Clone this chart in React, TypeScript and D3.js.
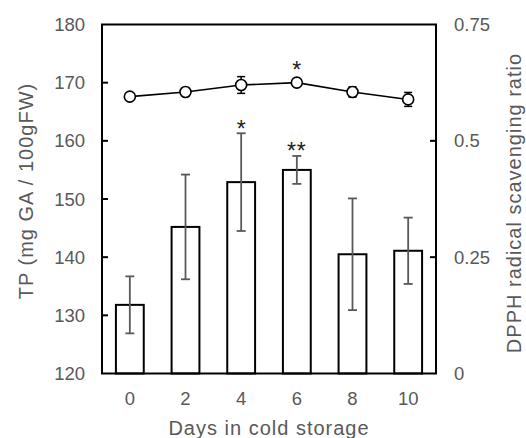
import React, { useMemo } from "react";
import * as d3 from "d3";

const days = ["0", "2", "4", "6", "8", "10"];
const tpMeans = [131.8, 145.2, 152.9, 155.0, 140.5, 141.1];
const tpErrors = [4.9, 9.0, 8.4, 2.4, 9.6, 5.7];
const dpphMeans = [0.595, 0.605, 0.62, 0.625, 0.605, 0.589];
const dpphErrors = [0.003, 0.008, 0.018, 0.003, 0.011, 0.015];
const leftTicks = [120, 130, 140, 150, 160, 170, 180];
const rightTicks = [0, 0.25, 0.5, 0.75];
const rightTickLabels = ["0", "0.25", "0.5", "0.75"];
// significance marks above bars and above the line
const barStars = [
  { day: "4", text: "*" },
  { day: "6", text: "**" },
];
const lineStars = [{ day: "6", text: "*" }];

const GREY = "#595959";
const FONT = "Liberation Sans, Arial, sans-serif";

function App() {
  const width = 526;
  const height = 438;
  const MARGIN = { top: 24.5, right: 90, bottom: 64.5, left: 102 };
  const boundsWidth = width - MARGIN.left - MARGIN.right;
  const boundsHeight = height - MARGIN.top - MARGIN.bottom;

  const xScale = useMemo(
    () =>
      d3
        .scaleBand()
        .domain(days)
        .range([0, boundsWidth])
        .paddingInner(0.5)
        .paddingOuter(0.25),
    [boundsWidth]
  );
  const yScale = useMemo(
    () => d3.scaleLinear().domain([120, 180]).range([boundsHeight, 0]),
    [boundsHeight]
  );
  const y2Scale = useMemo(
    () => d3.scaleLinear().domain([0, 0.75]).range([boundsHeight, 0]),
    [boundsHeight]
  );

  const cx = (d: string) => (xScale(d) ?? 0) + xScale.bandwidth() / 2;

  const bars = days.map((d, i) => (
    <rect
      key={"bar" + i}
      x={xScale(d)}
      y={yScale(tpMeans[i])}
      width={xScale.bandwidth()}
      height={boundsHeight - yScale(tpMeans[i])}
      fill="white"
      stroke="black"
      strokeWidth={2}
    />
  ));

  const barErrors = days.map((d, i) => {
    const x = cx(d);
    const hi = yScale(tpMeans[i] + tpErrors[i]);
    const lo = yScale(tpMeans[i] - tpErrors[i]);
    return (
      <g key={"be" + i} stroke={GREY} strokeWidth={1.8}>
        <line x1={x} x2={x} y1={hi} y2={lo} />
        <line x1={x - 4.5} x2={x + 4.5} y1={hi} y2={hi} />
        <line x1={x - 4.5} x2={x + 4.5} y1={lo} y2={lo} />
      </g>
    );
  });

  const linePath = d3
    .line<number>()
    .x((_, i) => cx(days[i]))
    .y((v) => y2Scale(v))(dpphMeans);

  const lineErrors = days.map((d, i) => {
    const x = cx(d);
    const hi = y2Scale(dpphMeans[i] + dpphErrors[i]);
    const lo = y2Scale(dpphMeans[i] - dpphErrors[i]);
    return (
      <g key={"le" + i} stroke="black" strokeWidth={1.5}>
        <line x1={x} x2={x} y1={hi} y2={lo} />
        <line x1={x - 4} x2={x + 4} y1={hi} y2={hi} />
        <line x1={x - 4} x2={x + 4} y1={lo} y2={lo} />
      </g>
    );
  });

  const points = days.map((d, i) => (
    <circle
      key={"pt" + i}
      cx={cx(d)}
      cy={y2Scale(dpphMeans[i])}
      r={5.5}
      fill="white"
      stroke="black"
      strokeWidth={1.6}
    />
  ));

  const starText = (key: string, x: number, centerY: number, text: string) => (
    <text
      key={key}
      x={x}
      y={centerY + 12.5}
      textAnchor="middle"
      fontSize={23}
      fontFamily={FONT}
      fill="#222"
      letterSpacing={text.length > 1 ? 1 : 0}
    >
      {text}
    </text>
  );

  const stars = [
    ...barStars.map((s, i) => {
      const idx = days.indexOf(s.day);
      const top = yScale(tpMeans[idx] + tpErrors[idx]);
      return starText("bs" + i, cx(s.day), top - 9, s.text);
    }),
    ...lineStars.map((s, i) => {
      const idx = days.indexOf(s.day);
      const top = y2Scale(dpphMeans[idx] + dpphErrors[idx]);
      return starText("ls" + i, cx(s.day), top - 16, s.text);
    }),
  ];

  const yLabels = leftTicks.map((t, i) => (
    <g key={"yl" + i}>
      {t > 120 && t < 180 ? (
        <line x1={0} x2={6} y1={yScale(t)} y2={yScale(t)} stroke="black" strokeWidth={2} />
      ) : null}
      <text
        x={-17}
        y={yScale(t)}
        dy="0.36em"
        textAnchor="end"
        fontSize={18.5}
        fontFamily={FONT}
        fill={GREY}
      >
        {t}
      </text>
    </g>
  ));

  const y2Labels = rightTicks.map((t, i) => (
    <g key={"y2l" + i}>
      {t > 0 && t < 0.75 ? (
        <line
          x1={boundsWidth - 6}
          x2={boundsWidth}
          y1={y2Scale(t)}
          y2={y2Scale(t)}
          stroke="black"
          strokeWidth={2}
        />
      ) : null}
      <text
        x={boundsWidth + 18}
        y={y2Scale(t)}
        dy="0.36em"
        textAnchor="start"
        fontSize={18.5}
        fontFamily={FONT}
        fill={GREY}
      >
        {rightTickLabels[i]}
      </text>
    </g>
  ));

  const xLabels = days.map((d, i) => (
    <text
      key={"xl" + i}
      x={cx(d)}
      y={boundsHeight + 31}
      textAnchor="middle"
      fontSize={18.5}
      fontFamily={FONT}
      fill={GREY}
    >
      {d}
    </text>
  ));

  return (
    <svg
      width={width}
      height={height}
      style={{ position: "absolute", left: 0, top: 0, background: "white" }}
    >
      <rect width={width} height={height} fill="white" />
      <g transform={`translate(${[MARGIN.left, MARGIN.top].join(",")})`}>
        {bars}
        {barErrors}
        <path d={linePath ?? ""} fill="none" stroke="black" strokeWidth={1.6} />
        {lineErrors}
        {points}
        {stars}
        <rect
          x={0}
          y={0}
          width={boundsWidth}
          height={boundsHeight}
          fill="none"
          stroke="black"
          strokeWidth={2}
        />
        {yLabels}
        {y2Labels}
        {xLabels}
      </g>
      <text
        transform="translate(33,191) rotate(-90)"
        textAnchor="middle"
        fontSize={20}
        letterSpacing={1}
        fontFamily={FONT}
        fill={GREY}
      >
        TP (mg GA / 100gFW)
      </text>
      <text
        transform="translate(521,203) rotate(-90)"
        textAnchor="middle"
        fontSize={20}
        letterSpacing={1}
        fontFamily={FONT}
        fill={GREY}
      >
        DPPH radical scavenging ratio
      </text>
      <text
        x={MARGIN.left + boundsWidth / 2}
        y={435}
        textAnchor="middle"
        fontSize={20}
        letterSpacing={1}
        fontFamily={FONT}
        fill={GREY}
      >
        Days in cold storage
      </text>
    </svg>
  );
}

export default App;
